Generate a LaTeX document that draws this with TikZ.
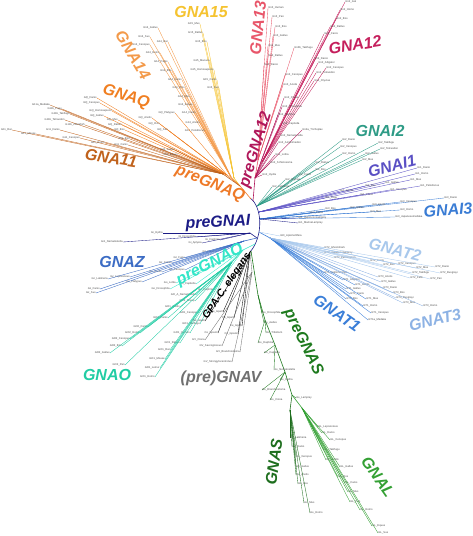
\documentclass[tikz,border=0pt]{standalone}
\usepackage{fontspec}
\setmainfont{Liberation Sans}
\definecolor{cYf}{HTML}{F5C330}
\definecolor{cFt}{HTML}{F39A4A}
\definecolor{cQq}{HTML}{F07F22}
\definecolor{cEl}{HTML}{C0621C}
\definecolor{cPq}{HTML}{EE7A28}
\definecolor{cTh}{HTML}{E8566A}
\definecolor{cTw}{HTML}{C51F5C}
\definecolor{cPt}{HTML}{B0175A}
\definecolor{cIb}{HTML}{2E9B86}
\definecolor{cIa}{HTML}{5A50C4}
\definecolor{cIc}{HTML}{3A7CD4}
\definecolor{cPi}{HTML}{1C1C86}
\definecolor{cTb}{HTML}{A8C8EC}
\definecolor{cTa}{HTML}{3A7ED8}
\definecolor{cTc}{HTML}{8DB2E4}
\definecolor{cZz}{HTML}{3C6CC4}
\definecolor{cPo}{HTML}{33E6C8}
\definecolor{cOo}{HTML}{22CCA4}
\definecolor{cVv}{HTML}{707070}
\definecolor{cPs}{HTML}{1E7A1E}
\definecolor{cSs}{HTML}{1E6E1E}
\definecolor{cLl}{HTML}{34A034}
\tikzset{
 lf/.style={font=\fontsize{2.7}{2.7}\selectfont, text=black!70, inner sep=0.2pt},
 br/.style={line width=0.35pt},
 stem/.style={line width=0.6pt},
 big/.style={font=\fontsize{16}{16}\selectfont\bfseries\itshape, inner sep=0pt},
}
\newcommand\fan[4]{\foreach \x/\y/\t in {#4}{\draw[br,#1] (#2) -- (\x,\y) node[lf,anchor=#3]{\t};}}
\begin{document}
\begin{tikzpicture}[x=1pt,y=-1pt]
\useasboundingbox (0,0) rectangle (472,536);
% root arc and hubs
\draw[stem,cPi] (250,198) .. controls (262,206) and (264,236) .. (250,252);
\coordinate (aQ) at (251,199);
\coordinate (aP) at (253,201);
\coordinate (aIb) at (257,206);
\coordinate (aIa) at (259,212);
\coordinate (aIc) at (260,219);
\coordinate (aT) at (259,232);
\coordinate (aN) at (257,238);
\coordinate (aO) at (255,244);
\coordinate (aS) at (251,251);
% ---- preGNAQ ----
\coordinate (Q0) at (240,186);
\coordinate (Y0) at (234,178);
\coordinate (O14) at (231,177);
\coordinate (OQ) at (227,175);
\coordinate (O11) at (223,174);
\draw[stem,cPq] (aQ) -- (Q0);
\draw[stem,cYf] (Q0) -- (Y0);
\draw[stem,cFt] (Q0) -- (O14);
\draw[stem,cQq] (Q0) -- (OQ);
\draw[stem,cEl] (Q0) -- (O11);
\fan{cYf}{Y0}{east}{200/24/G15\_Mus, 203/33/G15\_Rattus, 207/42/G15\_Bos, 210/61/G15\_Macaca, 214/70/G15\_Homosapiens, 217/80/G15\_Canis, 219/88/G15\_Sus}
\fan{cFt}{O14}{east}{158/28/G14\_Gallus, 150/37/G14\_Sus, 168/42/G14\_Rat, 150/45/G14\_Xenopus, 160/53/G14\_Homo, 168/62/G14\_Papio, 172/71/G14\_Bos, 182/80/G14\_Canis, 185/88/G14\_Ovis, 190/97/G14\_Mus, 193/105/G14\_Equus, 196/113/G14\_Danio, 200/123/G14\_Anolis, 205/131/G14\_Pelodiscus}
\fan{cQq}{OQ}{east}{97/98/GQ\_Danio, 100/103/GQ\_Xenopus, 112/111/GQ\_Homosapiens, 104/116/GQ\_Gallus, 118/120/GQ\_Mus, 122/125/GQ\_Rattus, 125/130/GQ\_Bos, 175/113/GQ\_Platypus, 152/118/GQ\_Anolis, 160/124/GQ\_Ovis, 168/130/GQ\_Sus}
\fan{cEl}{O11}{east}{50/105/G11a\_Medaka, 62/109/G11b\_Fugu, 70/114/G11b\_Takifugu, 65/120/G11b\_Tetraodon, 85/125/G11b\_Zebrafish, 12/130/G11\_Rat, 36/134/G11\_Mouse, 60/130/G11\_Danio, 80/138/G11\_Xenopus, 105/143/G11\_Homo, 130/139/G11\_Bos, 128/145/G11\_Canis, 175/150/G11\_Gallus, 178/155/G11\_Equus}
% ---- preGNA12 ----
\coordinate (P0) at (255,178);
\coordinate (K13) at (258,160);
\coordinate (K12) at (262,162);
\draw[stem,cPt] (aP) -- (P0);
\draw[stem,cTh] (P0) -- (K13);
\draw[stem,cTw] (P0) -- (K12);
\fan{cTh}{K13}{west}{268/8/G13\_Human, 272/17/G13\_Pan, 275/27/G13\_Bos, 273/36/G13\_Gallus, 268/46/G13\_Mus, 294/48/G13b\_Takifugu, 268/56/G13\_Rattus, 264/65/G13\_Danio, 285/75/G13\_Xenopus, 283/85/G13\_Anolis}
\fan{cTw}{K12}{west}{345/2/G12\_Gal, 340/10/G12\_Homo, 336/19/G12\_Bos, 330/27/G12\_Rattus, 324/34/G12\_Canis, 314/59/G12\_Danio, 318/63/G12\_Alligator, 326/68/G12\_Xenopus, 316/73/G12\_Tetraodon, 314/81/G12\_Oryzias}
\fan{cPt}{P0}{west}{284/98/G12\_Ciona, 282/107/G12\_Drosophila, 278/115/G12\_Daphnia, 282/124/G12\_Capitella, 280/136/G12\_Nematostella, 302/130/G12a\_Trichoplax, 278/143/G12\_Amphimedon, 275/155/G12\_Lottia, 270/163/G12\_Schistosoma, 262/175/G12\_Hydra}
% ---- GNAI ----
\fan{cIb}{aIb}{west}{342/140/Gi2\_Danio, 340/147/Gi2\_Xenopus, 342/154/Gi2\_Homo, 365/154/Gi2\_Gallus, 362/160/Gi2\_Mus, 378/143/Gi2\_Takifugu, 380/149/Gi2\_Tetraodon, 315/163/Gi2\_Rattus, 315/170/Gi2\_Bos, 298/175/Gi2\_Canis, 285/180/Gi2\_Oryzias, 272/187/Gi2\_Latimeria}
\fan{cIa}{aIa}{west}{417/168/Gi1\_Danio, 415/174/Gi1\_Homo, 410/180/Gi1\_Mus, 385/183/Gi1\_Gallus, 365/186/Gi1\_Bos, 390/190/Gi1\_Xenopus, 340/191/Gi1\_Anolis, 360/195/Gi1\_Canis, 420/186/Gi1\_Pelodiscus, 325/198/Gi1\_Fugu}
\fan{cIc}{aIc}{west}{444/198/Gi3\_Danio, 400/202/Gi3\_Xenopus, 372/205/Gi3\_Anolis, 400/210/Gi3\_Homo, 350/208/Gi3\_Gallus, 370/212/Gi3\_Mus, 395/217/Gi3\_Japanesemedaka, 325/209/Gi3\_Bos, 310/213/Gi3\_Canis}
\fan{cPi}{aIc}{west}{298/218/Gi1\_JapaneseLamprey, 298/223/Gi1\_MarineLamprey}
\coordinate (N0) at (250,233);
\draw[stem,cPi] (aN) -- (N0);
\fan{cPi}{N0}{east}{163/233/Gi\_Hydra, 123/242/Gi1\_Nematostella, 202/243/Gi\_Aplysia, 196/237/Gi\_Drosophila, 220/240/Gi\_Daphnia}
% ---- GNAT ----
\coordinate (T0) at (270,238);
\draw[stem,cTa] (aT) -- (T0);
\fan{cTb}{T0}{west}{324/248/GT2\_Ghostshark, 324/253/GT2\_Japaneselamprey, 334/258/GT2\_Petromyzon, 370/261/GT2\_Canis, 383/265/GT2\_Bos, 398/264/GT2\_Xenopus, 416/268/GT2\_Mus, 435/267/GT2\_Danio, 440/273/GT2\_Busgrayi, 412/273/GT2\_Takifugu, 430/279/GT2\_Pan, 410/278/GT2\_Felis}
\fan{cTa}{T0}{west}{324/273/GT1\_Callorhinchus, 343/280/GT1\_Alligator, 355/285/GT1\_Anolis, 346/289/GT1\_Gallus, 350/294/GT1\_Canis, 346/299/GT1\_Bos, 366/299/GT1\_Mus, 363/306/GT1\_Homo, 371/313/GT1\_Xenopus, 368/320/GT1a\_Medaka}
\fan{cTc}{T0}{west}{378/277/GT3\_Anolis, 381/282/GT3\_Gallus, 383/288/GT3\_Danio, 393/293/GT3\_Bos, 396/298/GT3\_Busgrayi, 403/303/GT3\_Mus, 423/306/GT3\_Homo}
\fan{cTb}{aT}{west}{280/236/Gt0\_Apismellifera}
% ---- GNAZ ----
\coordinate (Z0) at (244,241);
\draw[stem,cZz] (aN) -- (Z0);
\fan{cZz}{Z0}{east}{215/252/Gz\_Danio, 185/258/Gz\_Fugu, 172/263/Gz\_Gallus, 185/270/Gz\_Xenopus, 162/272/Gz\_Anolis, 130/277/Gz\_Lepisosteus, 108/279/Gz\_Latimeria, 142/282/Gz\_Platypus, 100/289/Gz\_Canis, 96/293/Gz\_Sus}
% ---- preGNAO / GNAO ----
\coordinate (O0) at (243,250);
\coordinate (GO) at (232,262);
\draw[stem,cPo] (aO) -- (O0);
\draw[stem,cOo] (O0) -- (GO);
\fan{cPo}{O0}{east}{176/283/Go\_Lottia, 196/284/Go\_Capitella, 170/289/Go\_Drosophila, 214/290/Go\_Daphnia, 196/295/GO\_A\_Nematostella}
\fan{cOo}{GO}{east}{195/301/GO2\_Sheep, 180/307/GO1\_Anolis, 198/313/GO1\_Xenopus, 168/318/GO2\_Danio, 200/324/GO1\_Takifugu, 148/327/GO2\_Canis, 140/333/GO2\_Homo, 190/333/GO1\_Human, 130/339/GO2\_Xenopus, 122/346/GO2\_Bos, 180/343/GO1\_Rattus, 110/353/GO2\_Gallus, 170/350/GO1\_Rat, 165/359/GO1\_Mouse, 125/365/GO2\_Pan, 160/368/GO1\_Lemur, 155/377/GO1\_Homo}
% ---- GPA C. elegans ----
\coordinate (C0) at (250,252);
\draw[stem,black] (aS) -- (C0);
\fan{black}{C0}{east}{223/312/Ce\_Gpa3, 234/318/Ce\_Gpa7, 205/321/Ce\_Gpa9, 242/326/Ce\_Gpa4, 218/333/Ce\_Gpa14, 238/334/Ce\_Gpa12}
% ---- GNAV ----
\coordinate (V0) at (252,272);
\draw[br,cVv] (C0) -- (V0);
\fan{cVv}{V0}{east}{205/340/GV\_Ciona, 222/346/GV\_Saccoglossus, 240/352/GV\_Branchiostoma, 232/362/GV\_Strongylocentrotus}
% ---- preGNAS ----
\coordinate (G1) at (258,295);
\coordinate (G2) at (265,320);
\coordinate (G3) at (275,345);
\coordinate (G4) at (285,372);
\coordinate (G5) at (292,395);
\coordinate (GS) at (290,410);
\coordinate (GL) at (302,408);
\draw[stem,cPs] (aS) -- (G1) -- (G2) -- (G3) -- (G4) -- (G5);
\draw[stem,cSs] (G5) -- (GS);
\draw[stem,cLl] (G5) -- (GL);
\fan{cPs}{G1}{west}{262/313/Gs\_Drosophila, 264/323/Gs\_Aedes}
\fan{cPs}{G2}{west}{266/333/Gs\_Tribolium, 258/343/Gs\_Daphnia}
\fan{cPs}{G3}{west}{264/353/Gs\_Capitella, 274/370/Gs\_Nematostella}
\fan{cPs}{G4}{west}{280/380/Gs\_Hydra, 262/390/Gs\_Branchiostoma, 270/400/Gs\_Ciona}
\fan{cPs}{G5}{west}{296/398/Gs\_Lamprey}
\fan{cSs}{GS}{west}{290/438/Gs\_Latimeria, 292/447/Gs\_Danio, 296/457/Gs\_Xenopus, 296/467/Gs\_Gallus, 296/475/Gs\_Anolis, 298/484/Gs\_Bos, 304/503/Gs\_Mus, 310/513/Gs\_Homo}
\fan{cLl}{GL}{west}{318/427/GL\_Lepisosteus, 322/433/GL\_Danio, 330/440/GL\_Xenopus, 324/450/GL\_Takifugu, 326/460/GL\_Anolis, 340/467/GL\_Gallus, 338/477/GL\_Bos, 345/483/GL\_Canis, 348/492/GL\_Mus, 350/502/GL\_Pan, 360/510/GL\_Homo, 372/526/GL\_Equus, 378/533/GL\_Sus}
% ---- big clade labels ----
\node[big,text=cYf] (l15) at (201,12) {GNA15};
\node[big,text=cFt,rotate=-59] (l14) at (133,55) {GNA14};
\node[big,text=cQq,rotate=-17] (lQ) at (126,97) {GNAQ};
\node[big,text=cEl,rotate=-9] (l11) at (111,158) {GNA11};
\node[big,text=cPq,rotate=-22] (lpQ) at (210,184) {preGNAQ};
\node[big,text=cTh,rotate=84] (l13) at (258,28) {GNA13};
\node[big,text=cTw,rotate=9] (l12) at (355,45) {GNA12};
\node[big,text=cPt,rotate=73] (lp12) at (256,150) {preGNA12};
\node[big,text=cIb] (li2) at (380,131) {GNAI2};
\node[big,text=cIa,rotate=14] (li1) at (392,166) {GNAI1};
\node[big,text=cIc,rotate=5] (li3) at (448,210) {GNAI3};
\node[big,text=cPi,rotate=3] (lpi) at (218,223) {preGNAI};
\node[big,text=cTb,rotate=-14] (lt2) at (395,250) {GNAT2};
\node[big,text=cTc,rotate=14] (lt3) at (435,320) {GNAT3};
\node[big,text=cTa,rotate=-35] (lt1) at (337,313) {GNAT1};
\node[big,text=cZz] (lz) at (122,262) {GNAZ};
\node[big,text=cPo,rotate=27] (lpo) at (210,265) {preGNAO};
\node[big,font=\fontsize{10.5}{10.5}\selectfont\bfseries\itshape,text=black,rotate=56] (lc) at (227,286) {GPA-C. elegans};
\node[big,text=cOo] (lo) at (107,375) {GNAO};
\node[big,text=cVv] (lv) at (221,378) {(pre)GNAV};
\node[big,text=cPs,rotate=-64] (lps) at (303,342) {preGNAS};
\node[big,text=cSs,rotate=82] (ls) at (274,462) {GNAS};
\node[big,text=cLl,rotate=-55] (ll) at (378,477) {GNAL};
\end{tikzpicture}
\end{document}
